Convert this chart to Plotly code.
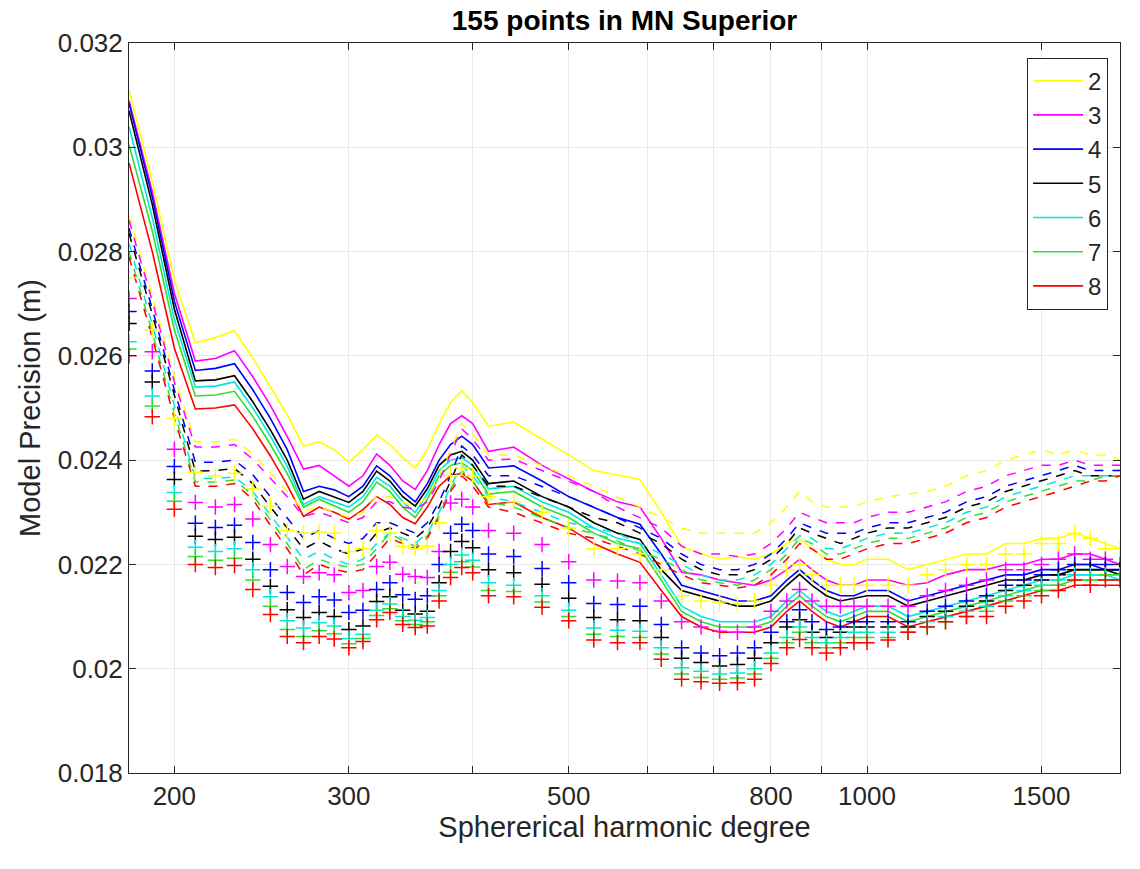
import math
import plotly.graph_objects as go

# Spherical harmonic degree (x positions)
degrees = [180, 190, 200, 210, 220, 230, 240, 250, 260, 270,
           280, 290, 300, 310, 320, 330, 340, 350, 360, 370,
           380, 390, 400, 415, 440, 470, 500, 530, 560, 590,
           620, 650, 680, 710, 740, 770, 800, 830, 855, 880,
           910, 940, 970, 1000, 1050, 1100, 1150, 1200, 1260, 1320,
           1380, 1440, 1500, 1560, 1620, 1680, 1740, 1800]

legend_labels = ["2", "3", "4", "5", "6", "7", "8"]
colors = ["#ffff00", "#ff00ff", "#0000ff", "#000000", "#00e5e5", "#2ee02e", "#ff0000"]

# ---- solid lines ----
solid_2 = [.03110, .02935, .02745, .02625, .02635, .02648, .02596, .02540, .02487, .02427,
           .02435, .02420, .02396, .02420, .02448, .02430, .02405, .02385, .02420, .02470,
           .02510, .02533, .02510, .02465, .02473, .02440, .02410, .02380, .02372, .02363,
           .02300, .02235, .02220, .02210, .02215, .02210, .02220, .02240, .02250, .02230,
           .02210, .02200, .02200, .02210, .02210, .02190, .02200, .02210, .02220, .02220,
           .02240, .02240, .02250, .02250, .02260, .02250, .02240, .02230]
solid_3 = [.03090, .02915, .02720, .02590, .02595, .02610, .02560, .02505, .02445, .02383,
           .02390, .02370, .02350, .02370, .02412, .02390, .02360, .02344, .02380, .02430,
           .02470, .02485, .02470, .02417, .02425, .02390, .02365, .02340, .02320, .02310,
           .02250, .02185, .02180, .02170, .02165, .02160, .02170, .02190, .02210, .02190,
           .02170, .02160, .02160, .02170, .02170, .02160, .02165, .02180, .02190, .02190,
           .02200, .02200, .02210, .02210, .02220, .02220, .02210, .02200]
solid_4 = [.03085, .02905, .02705, .02572, .02576, .02585, .02535, .02480, .02420, .02340,
           .02350, .02343, .02330, .02350, .02389, .02370, .02340, .02320, .02355, .02400,
           .02430, .02446, .02430, .02385, .02389, .02360, .02330, .02310, .02290, .02277,
           .02220, .02160, .02150, .02140, .02130, .02130, .02140, .02170, .02190, .02170,
           .02150, .02140, .02140, .02150, .02150, .02130, .02140, .02150, .02160, .02170,
           .02180, .02180, .02190, .02190, .02200, .02200, .02190, .02190]
solid_5 = [.03070, .02890, .02690, .02552, .02554, .02562, .02512, .02458, .02400, .02325,
           .02340, .02330, .02319, .02340, .02379, .02360, .02330, .02312, .02345, .02390,
           .02410, .02417, .02400, .02355, .02360, .02330, .02310, .02280, .02260, .02248,
           .02190, .02150, .02140, .02130, .02120, .02120, .02130, .02160, .02181, .02160,
           .02140, .02130, .02135, .02140, .02140, .02120, .02130, .02140, .02150, .02160,
           .02170, .02170, .02180, .02180, .02190, .02190, .02190, .02180]
solid_6 = [.03040, .02865, .02670, .02540, .02542, .02550, .02500, .02446, .02388, .02315,
           .02330, .02320, .02310, .02330, .02367, .02350, .02320, .02300, .02335, .02380,
           .02400, .02405, .02390, .02345, .02350, .02320, .02300, .02270, .02250, .02240,
           .02180, .02120, .02100, .02090, .02090, .02090, .02100, .02130, .02150, .02130,
           .02110, .02100, .02110, .02120, .02120, .02100, .02110, .02120, .02130, .02140,
           .02150, .02160, .02170, .02170, .02180, .02180, .02180, .02170]
solid_7 = [.03005, .02840, .02650, .02523, .02525, .02532, .02484, .02430, .02374, .02310,
           .02325, .02312, .02300, .02320, .02358, .02340, .02310, .02290, .02325, .02370,
           .02390, .02395, .02380, .02335, .02340, .02310, .02290, .02260, .02240, .02230,
           .02170, .02110, .02090, .02080, .02080, .02080, .02090, .02120, .02140, .02120,
           .02100, .02090, .02100, .02110, .02110, .02090, .02100, .02110, .02120, .02130,
           .02140, .02150, .02160, .02160, .02170, .02170, .02170, .02170]
solid_8 = [.02970, .02800, .02615, .02498, .02500, .02506, .02460, .02408, .02352, .02292,
           .02310, .02300, .02287, .02305, .02330, .02315, .02290, .02278, .02310, .02350,
           .02370, .02375, .02360, .02315, .02320, .02290, .02270, .02240, .02220, .02204,
           .02150, .02100, .02080, .02070, .02070, .02070, .02080, .02110, .02130, .02110,
           .02090, .02080, .02090, .02100, .02100, .02080, .02090, .02100, .02110, .02120,
           .02130, .02140, .02150, .02150, .02160, .02160, .02160, .02160]

# ---- dashed lines ----
dashed_2 = [.02870, .02715, .02560, .02435, .02435, .02440, .02412, .02375, .02340, .02302,
            .02310, .02300, .02290, .02300, .02330, .02330, .02320, .02310, .02330, .02370,
            .02420, .02470, .02450, .02410, .02410, .02390, .02370, .02350, .02330, .02310,
            .02290, .02270, .02260, .02260, .02260, .02260, .02280, .02310, .02340, .02320,
            .02310, .02310, .02310, .02320, .02330, .02335, .02340, .02350, .02370, .02380,
            .02400, .02410, .02420, .02410, .02420, .02410, .02410, .02400]
dashed_3 = [.02860, .02705, .02550, .02425, .02425, .02430, .02402, .02365, .02330, .02292,
            .02300, .02290, .02280, .02290, .02320, .02320, .02310, .02306, .02320, .02360,
            .02410, .02460, .02440, .02400, .02402, .02380, .02360, .02340, .02310, .02290,
            .02270, .02235, .02220, .02220, .02215, .02220, .02240, .02270, .02300, .02290,
            .02280, .02280, .02280, .02290, .02300, .02300, .02310, .02320, .02340, .02350,
            .02370, .02380, .02390, .02390, .02400, .02390, .02390, .02390]
dashed_4 = [.02845, .02690, .02535, .02396, .02396, .02400, .02372, .02330, .02290, .02250,
            .02265, .02250, .02240, .02250, .02280, .02280, .02270, .02260, .02280, .02320,
            .02370, .02427, .02410, .02370, .02370, .02350, .02330, .02310, .02290, .02270,
            .02250, .02220, .02200, .02190, .02190, .02200, .02220, .02250, .02280, .02270,
            .02260, .02260, .02260, .02270, .02280, .02280, .02290, .02300, .02320, .02330,
            .02350, .02360, .02370, .02380, .02390, .02380, .02380, .02380]
dashed_5 = [.02835, .02680, .02525, .02379, .02380, .02384, .02355, .02310, .02270, .02230,
            .02245, .02230, .02220, .02230, .02260, .02270, .02260, .02250, .02270, .02310,
            .02360, .02410, .02390, .02350, .02350, .02330, .02310, .02290, .02280, .02260,
            .02240, .02210, .02190, .02180, .02180, .02190, .02210, .02240, .02270, .02260,
            .02250, .02240, .02250, .02260, .02270, .02270, .02280, .02290, .02310, .02320,
            .02340, .02350, .02360, .02370, .02380, .02370, .02370, .02370]
dashed_6 = [.02815, .02660, .02505, .02365, .02365, .02368, .02340, .02295, .02250, .02210,
            .02225, .02210, .02200, .02210, .02240, .02260, .02250, .02240, .02260, .02300,
            .02350, .02390, .02370, .02330, .02320, .02300, .02280, .02270, .02260, .02240,
            .02220, .02200, .02180, .02170, .02170, .02180, .02200, .02230, .02255, .02250,
            .02230, .02230, .02240, .02250, .02260, .02260, .02270, .02280, .02300, .02310,
            .02330, .02340, .02350, .02360, .02370, .02370, .02370, .02370]
dashed_7 = [.02800, .02645, .02490, .02358, .02358, .02362, .02333, .02285, .02240, .02190,
            .02210, .02200, .02195, .02200, .02230, .02260, .02245, .02235, .02255, .02295,
            .02345, .02380, .02360, .02320, .02310, .02290, .02270, .02260, .02245, .02225,
            .02210, .02190, .02170, .02165, .02160, .02170, .02190, .02220, .02250, .02240,
            .02220, .02220, .02230, .02240, .02250, .02250, .02260, .02270, .02290, .02300,
            .02320, .02330, .02340, .02350, .02360, .02360, .02370, .02370]
dashed_8 = [.02790, .02635, .02480, .02350, .02350, .02355, .02325, .02275, .02230, .02180,
            .02200, .02190, .02185, .02190, .02220, .02250, .02240, .02230, .02250, .02290,
            .02340, .02370, .02350, .02310, .02300, .02280, .02260, .02250, .02235, .02220,
            .02200, .02180, .02165, .02160, .02155, .02160, .02180, .02210, .02240, .02230,
            .02210, .02210, .02220, .02230, .02240, .02240, .02250, .02260, .02280, .02290,
            .02310, .02320, .02330, .02340, .02350, .02360, .02360, .02370]

# ---- plus markers ----
plus_2 = [.02750, .02650, .02480, .02377, .02370, .02375, .02345, .02312, .02265, .02260,
          .02262, .02260, .02225, .02230, .02265, .02260, .02235, .02230, .02235, .02280,
          .02370, .02385, .02370, .02330, .02320, .02300, .02270, .02230, .02230, .02220,
          .02190, .02140, .02130, .02128, .02125, .02130, .02160, .02190, .02200, .02180,
          .02160, .02160, .02160, .02160, .02160, .02160, .02180, .02190, .02200, .02200,
          .02220, .02220, .02240, .02240, .02260, .02250, .02230, .02230]
plus_3 = [.02710, .02608, .02421, .02319, .02310, .02315, .02287, .02238, .02196, .02177,
          .02184, .02180, .02146, .02150, .02196, .02204, .02181, .02177, .02175, .02225,
          .02318, .02325, .02310, .02265, .02260, .02238, .02205, .02170, .02168, .02165,
          .02130, .02090, .02080, .02072, .02070, .02080, .02110, .02130, .02152, .02130,
          .02120, .02120, .02120, .02120, .02120, .02120, .02140, .02150, .02160, .02170,
          .02190, .02190, .02200, .02210, .02220, .02210, .02210, .02200]
plus_4 = [.02685, .02571, .02388, .02279, .02271, .02275, .02242, .02190, .02146, .02127,
          .02138, .02132, .02108, .02112, .02152, .02165, .02142, .02133, .02140, .02200,
          .02260, .02277, .02265, .02220, .02215, .02192, .02165, .02125, .02123, .02120,
          .02085, .02040, .02030, .02025, .02030, .02040, .02070, .02090, .02113, .02090,
          .02075, .02080, .02090, .02090, .02090, .02090, .02110, .02120, .02130, .02140,
          .02160, .02170, .02180, .02190, .02200, .02200, .02200, .02190]
plus_5 = [.02662, .02550, .02363, .02254, .02248, .02252, .02210, .02158, .02113, .02098,
          .02108, .02100, .02075, .02082, .02129, .02138, .02112, .02105, .02110, .02165,
          .02225, .02244, .02232, .02190, .02184, .02162, .02135, .02098, .02094, .02092,
          .02060, .02020, .02012, .02005, .02008, .02020, .02050, .02080, .02094, .02070,
          .02060, .02070, .02080, .02080, .02080, .02080, .02100, .02110, .02120, .02130,
          .02150, .02160, .02170, .02180, .02190, .02190, .02190, .02190]
plus_6 = [.02627, .02523, .02338, .02233, .02225, .02230, .02190, .02138, .02092, .02078,
          .02088, .02082, .02058, .02066, .02112, .02124, .02100, .02093, .02098, .02150,
          .02200, .02218, .02208, .02165, .02160, .02140, .02112, .02078, .02074, .02072,
          .02040, .02002, .01995, .01990, .01992, .02000, .02030, .02060, .02080, .02060,
          .02050, .02060, .02070, .02070, .02070, .02070, .02090, .02100, .02110, .02120,
          .02140, .02150, .02160, .02170, .02180, .02180, .02180, .02180]
plus_7 = [.02613, .02504, .02321, .02215, .02208, .02212, .02170, .02120, .02075, .02062,
          .02073, .02067, .02048, .02058, .02102, .02115, .02092, .02085, .02090, .02140,
          .02185, .02205, .02195, .02150, .02148, .02128, .02100, .02066, .02062, .02060,
          .02028, .01990, .01983, .01980, .01982, .01990, .02020, .02050, .02070, .02050,
          .02040, .02050, .02060, .02060, .02060, .02070, .02080, .02090, .02100, .02110,
          .02130, .02140, .02150, .02160, .02170, .02170, .02180, .02180]
plus_8 = [.02600, .02483, .02306, .02200, .02194, .02198, .02152, .02104, .02062, .02050,
          .02062, .02057, .02040, .02052, .02094, .02108, .02085, .02079, .02082, .02130,
          .02175, .02194, .02184, .02140, .02138, .02118, .02092, .02055, .02050, .02050,
          .02018, .01980, .01975, .01972, .01973, .01980, .02010, .02040, .02056, .02040,
          .02030, .02040, .02050, .02050, .02055, .02070, .02080, .02090, .02100, .02100,
          .02120, .02130, .02140, .02150, .02170, .02160, .02170, .02170]

x_tick_vals = [200, 300, 400, 500, 600, 700, 800, 900, 1000, 1500]
x_tick_text = ["200", "300", "", "500", "", "", "800", "", "1000", "1500"]
y_tick_vals = [0.018, 0.020, 0.022, 0.024, 0.026, 0.028, 0.030, 0.032]
y_tick_text = ["0.018", "0.02", "0.022", "0.024", "0.026", "0.028", "0.03", "0.032"]

solid = [solid_2, solid_3, solid_4, solid_5, solid_6, solid_7, solid_8]
dashed = [dashed_2, dashed_3, dashed_4, dashed_5, dashed_6, dashed_7, dashed_8]
plus = [plus_2, plus_3, plus_4, plus_5, plus_6, plus_7, plus_8]
for group in (solid, dashed, plus):
    for s in group:
        assert len(s) == len(degrees)

FONT = "Arial, 'Liberation Sans', Helvetica, sans-serif"
AX = "#262626"

fig = go.Figure()
for lab, col, ys in zip(legend_labels, colors, solid):
    fig.add_trace(go.Scatter(x=degrees, y=ys, mode="lines", name=lab,
                             line=dict(color=col, width=1.6)))
for lab, col, ys in zip(legend_labels, colors, dashed):
    fig.add_trace(go.Scatter(x=degrees, y=ys, mode="lines", name=lab, showlegend=False,
                             line=dict(color=col, width=1.5, dash="dash")))
for lab, col, ys in zip(legend_labels, colors, plus):
    fig.add_trace(go.Scatter(x=degrees, y=ys, mode="markers", name=lab, showlegend=False,
                             marker=dict(symbol="cross-thin", size=11, color=col,
                                         line=dict(color=col, width=1.5))))

fig.update_layout(
    width=1140, height=869,
    margin=dict(l=129, r=20, t=43, b=96),
    paper_bgcolor="white", plot_bgcolor="white",
    font=dict(family=FONT, color=AX),
    title=dict(text="<b>155 points in MN Superior</b>", x=0.5, xref="paper",
               y=1 - 20 / 869, yref="container", yanchor="middle",
               font=dict(size=28, color="black", family=FONT)),
    legend=dict(x=0.988, y=0.98, xanchor="right", yanchor="top",
                bgcolor="white", bordercolor=AX, borderwidth=1,
                font=dict(size=24, color=AX, family=FONT), itemwidth=50,
                tracegroupgap=0),
    xaxis=dict(type="log", range=[math.log10(180), math.log10(1800)],
               tickvals=x_tick_vals, ticktext=x_tick_text,
               ticks="inside", ticklen=7, tickcolor=AX, tickwidth=1,
               showline=True, linecolor=AX, linewidth=1, mirror="ticks",
               showgrid=True, gridcolor="#e8e8e8", gridwidth=1, zeroline=False,
               tickfont=dict(size=26, color=AX, family=FONT),
               title=dict(text="Sphererical harmonic degree",
                          font=dict(size=29, color=AX, family=FONT), standoff=6)),
    yaxis=dict(range=[0.018, 0.032], tickvals=y_tick_vals, ticktext=y_tick_text,
               ticks="inside", ticklen=7, tickcolor=AX, tickwidth=1,
               showline=True, linecolor=AX, linewidth=1, mirror="ticks",
               showgrid=True, gridcolor="#e8e8e8", gridwidth=1, zeroline=False,
               tickfont=dict(size=26, color=AX, family=FONT),
               title=dict(text="Model Precision (m)",
                          font=dict(size=29, color=AX, family=FONT), standoff=8)),
)

fig.write_html("out.html")
